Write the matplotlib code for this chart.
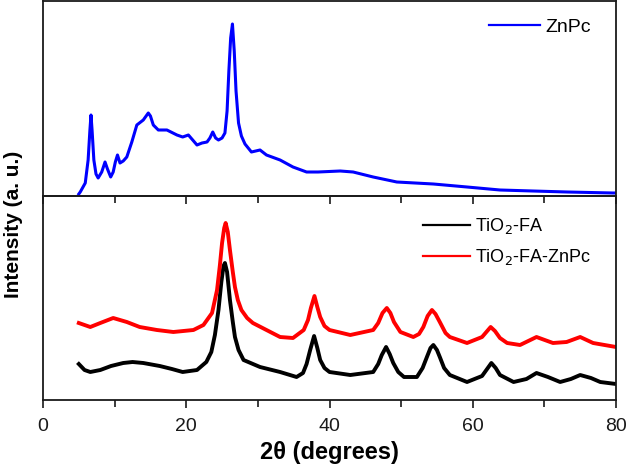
import matplotlib
matplotlib.use("Agg")
import matplotlib.pyplot as plt
from matplotlib.ticker import MultipleLocator

# ---- data (intensity in arbitrary units) ----
znpc_x = [5.0, 5.2, 5.9, 6.3, 6.55, 6.7, 6.85, 7.1, 7.4, 7.7, 8.2, 8.66, 9.0, 9.45,
          9.8, 10.1, 10.4, 10.75, 11.2, 11.7, 12.4, 13.1, 14.0, 14.7, 15.0, 15.4,
          16.1, 17.3, 18.7, 19.5, 20.3, 20.9, 21.5, 22.2, 22.9, 23.3, 23.7, 24.1,
          24.5, 25.0, 25.4, 25.7, 25.95, 26.2, 26.45, 26.7, 26.95, 27.3, 27.7,
          28.2, 29.1, 30.3, 31.2, 33.1, 34.9, 36.8, 38.4, 41.5, 43.3, 46.1, 49.4,
          54.5, 59.2, 63.8, 68.4, 73.2, 79.6, 80.0]
znpc_y = [2, 4, 13, 36, 66, 81, 66, 36, 22, 18, 24, 34, 27, 19,
          24, 34, 41, 33, 35, 39, 54, 71, 76, 83, 80, 71,
          66, 66, 61, 59, 61, 56, 51, 53, 54, 58, 64, 58,
          56, 58, 63, 85, 125, 158, 172, 145, 105, 73, 60,
          52, 44, 46, 41, 36, 29, 24, 24, 25, 24, 19, 14,
          12, 9, 6, 5, 4, 3, 3]

tio2_x = [5.0, 5.8, 6.6, 8.0, 9.5, 11.2, 12.5, 14.0, 16.3, 18.0, 19.5, 21.5, 22.8,
          23.5, 24.0, 24.5, 24.9, 25.2, 25.4, 25.7, 26.1, 26.5, 26.8, 27.3, 28.0,
          30.3, 33.1, 35.4, 36.3, 36.8, 37.3, 37.85, 38.3, 38.7, 39.3, 40.0,
          42.9, 46.1, 46.8, 47.3, 47.9, 48.4, 48.9, 49.6, 50.4, 52.2, 53.0,
          53.6, 54.1, 54.5, 55.0, 55.4, 56.0, 56.8, 59.2, 61.3, 62.0, 62.6,
          63.2, 63.8, 65.7, 67.5, 68.9, 70.5, 72.2, 73.7, 75.0, 76.5, 77.8, 80.0]
tio2_y = [36, 30, 28, 30, 34, 37, 38, 37, 34, 31, 28, 30, 38,
          48, 65, 90, 118, 134, 137, 128, 100, 78, 63, 50, 40,
          33, 28, 23, 27, 36, 50, 64, 52, 40, 32, 28,
          25, 28, 36, 45, 53, 46, 37, 28, 23, 23, 32,
          43, 52, 55, 50, 43, 32, 25, 18, 24, 31, 37,
          32, 25, 18, 21, 27, 23, 18, 21, 25, 22, 18, 16]

tio2zn_x = [5.0, 6.6, 8.0, 9.8, 11.7, 13.5, 15.9, 18.2, 21.0, 22.4, 23.6, 24.3,
            24.7, 25.0, 25.3, 25.5, 25.8, 26.1, 26.5, 26.8, 27.2, 27.7, 28.5,
            29.3, 31.2, 33.1, 34.9, 36.4, 37.0, 37.4, 37.9, 38.3, 38.7, 39.3,
            40.0, 42.9, 46.1, 46.8, 47.4, 48.0, 48.5, 49.0, 49.9, 51.7, 52.5,
            53.1, 53.7, 54.3, 54.8, 55.4, 56.2, 56.8, 59.2, 61.3, 61.9, 62.5,
            63.1, 63.8, 64.8, 66.6, 68.9, 71.2, 73.1, 75.0, 76.8, 80.0]
tio2zn_y = [77, 73, 77, 82, 78, 73, 70, 68, 70, 75, 87, 110,
            135, 157, 172, 177, 168, 150, 128, 113, 100, 90, 82,
            77, 70, 63, 62, 70, 80, 92, 104, 93, 83, 74,
            70, 65, 70, 77, 87, 92, 87, 78, 68, 63, 66,
            73, 84, 90, 86, 78, 67, 63, 57, 63, 68, 73,
            69, 62, 57, 55, 63, 57, 58, 63, 57, 53]

x_ticks = [0, 20, 40, 60, 80]

plt.rcParams['font.family'] = ['Liberation Sans', 'DejaVu Sans']

fig = plt.figure(figsize=(6.29, 4.71), dpi=100)
L, R = 43 / 629, 616 / 629
y_mid = 1 - 196 / 471
y_bot = 1 - 400 / 471
y_top = 1 - 1 / 471
ax_bot = fig.add_axes([L, y_bot, R - L, y_mid - y_bot])
ax_top = fig.add_axes([L, y_mid, R - L, y_top - y_mid])
ax_top.set_zorder(3)
ax_top.patch.set_alpha(0)

ax_top.plot(znpc_x, znpc_y, color='#0000ff', lw=2.2, label='ZnPc')
ax_bot.plot(tio2_x, tio2_y, color='black', lw=2.8, label='TiO$_2$-FA')
ax_bot.plot(tio2zn_x, tio2zn_y, color='#ff0000', lw=2.8, label='TiO$_2$-FA-ZnPc')

for ax in (ax_top, ax_bot):
    ax.set_xlim(0, 80)
    ax.set_yticks([])
    for s in ax.spines.values():
        s.set_linewidth(1.3)
        s.set_color('#1a1a1a')
    ax.xaxis.set_major_locator(MultipleLocator(20))
    ax.xaxis.set_minor_locator(MultipleLocator(10))
    ax.tick_params(axis='x', which='both', direction='out', width=1.2,
                   colors='#1a1a1a')
    ax.tick_params(axis='x', which='major', length=6)
    ax.tick_params(axis='x', which='minor', length=5)

ax_top.set_ylim(0, 195)
ax_bot.set_ylim(0, 204)

ax_top.tick_params(axis='x', which='both', labelbottom=False)
ax_bot.set_xticks(x_ticks)
ax_bot.tick_params(axis='x', which='major', labelsize=14, pad=7)

ax_bot.set_xlabel('2θ (degrees)', fontsize=17, fontweight='bold', labelpad=4)
fig.text(0.021, 1 - 224 / 471, 'Intensity (a. u.)', rotation=90, fontsize=15,
         fontweight='bold', ha='center', va='center')

leg1 = ax_top.legend(loc='upper right', bbox_to_anchor=(0.987, 1.0), frameon=False,
                     fontsize=14, handlelength=2.6, handletextpad=0.3)
leg2 = ax_bot.legend(loc='upper right', bbox_to_anchor=(0.985, 0.98), frameon=False,
                     fontsize=13, handlelength=2.6, handletextpad=0.3, labelspacing=0.6)
for leg in (leg1, leg2):
    for ln in leg.get_lines():
        ln.set_linewidth(1.6)

fig.savefig('out.png', dpi=100)
